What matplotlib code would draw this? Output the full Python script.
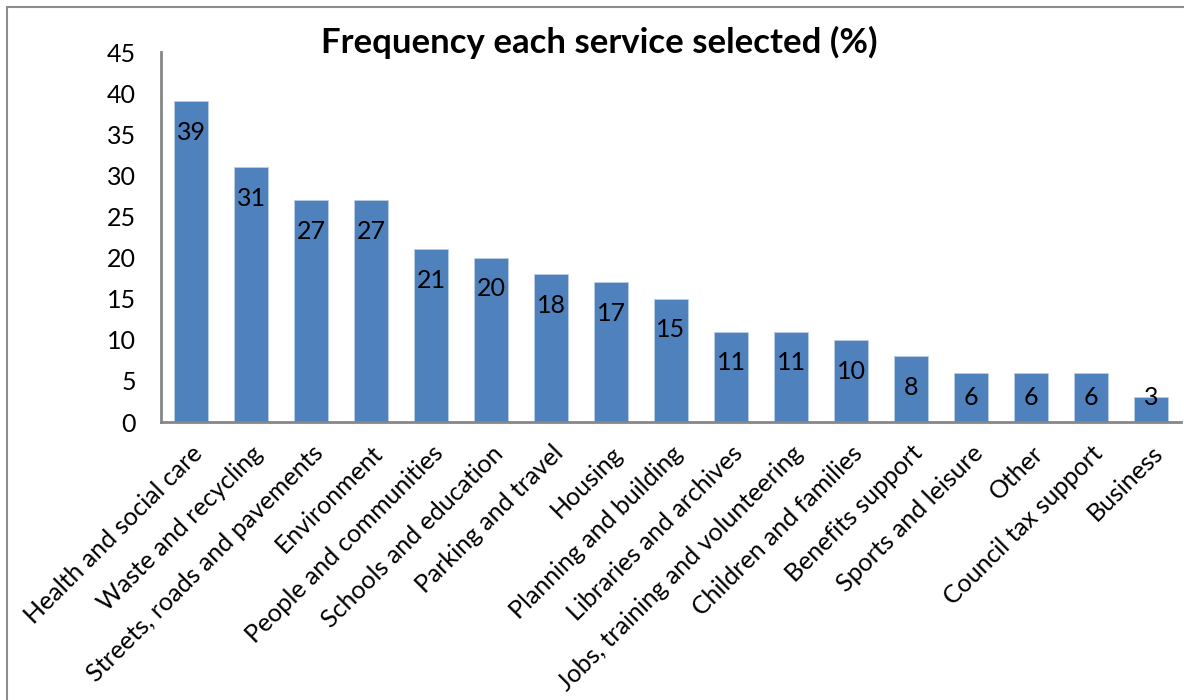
import matplotlib
matplotlib.use("Agg")
import matplotlib.pyplot as plt
from matplotlib.patches import Rectangle

categories = ["Health and social care", "Waste and recycling", "Streets, roads and pavements",
              "Environment", "People and communities", "Schools and education",
              "Parking and travel", "Housing", "Planning and building",
              "Libraries and archives", "Jobs, training and volunteering",
              "Children and families", "Benefits support", "Sports and leisure",
              "Other", "Council tax support", "Business"]
values = [39, 31, 27, 27, 21, 20, 18, 17, 15, 11, 11, 10, 8, 6, 6, 6, 3]
yticks = [0, 5, 10, 15, 20, 25, 30, 35, 40, 45]
title = "Frequency each service selected (%)"

plt.rcParams['font.family'] = ['Lato', 'DejaVu Sans']

W, H = 1184, 700
fig = plt.figure(figsize=(W / 100, H / 100), dpi=100)

# chart border
fig.patches.append(Rectangle((7 / W, -0.1), 1.2, (H - 7) / H + 0.1, transform=fig.transFigure,
                             fill=False, edgecolor="#8c8c8c", linewidth=1.5))

left, right, bottom, top = 161 / W, 1181 / W, 1 - 422 / H, 1 - 52 / H
ax = fig.add_axes([left, bottom, right - left, top - bottom])

x = list(range(len(values)))
ax.bar(x, values, width=0.57, color="#4F81BD", edgecolor="#b9cde5", linewidth=0.6, zorder=2)
ax.set_xlim(-0.5, len(values) - 0.5)
ax.set_ylim(0, 45)
ax.set_yticks(yticks)
ax.set_yticklabels([str(t) for t in yticks], fontsize=18)
ax.tick_params(axis='both', length=0)
ax.tick_params(axis='y', pad=18)
ax.set_xticks(x)
ax.set_xticklabels(categories, rotation=45, ha='right', va='top', rotation_mode='anchor', fontsize=18)
ax.tick_params(axis='x', pad=14)

for s in ['top', 'right']:
    ax.spines[s].set_visible(False)
for s in ['left', 'bottom']:
    ax.spines[s].set_color("#868686")
    ax.spines[s].set_linewidth(2)

for xi, v in zip(x, values):
    ax.text(xi, max(v - 3.8, 3.0), str(v), ha='center', va='center', fontsize=18, color='black', zorder=3)

fig.text(599 / W, 1 - 42 / H, title, ha='center', va='center', fontsize=25, fontweight='bold')

fig.savefig("out.png", dpi=100)
